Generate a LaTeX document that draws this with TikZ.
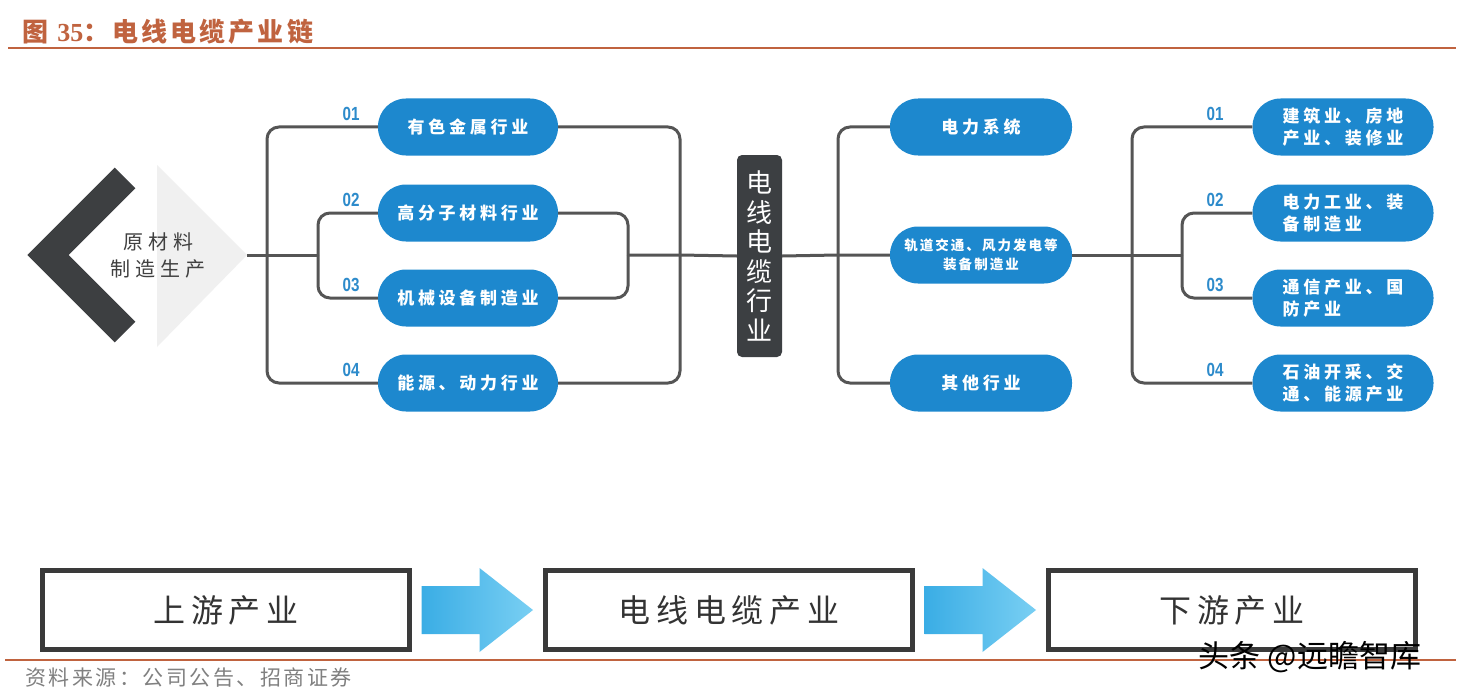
\documentclass[tikz,border=0pt]{standalone}
\usepackage{fontspec}
\usepackage{graphicx}
\setmainfont{Liberation Sans}
\newfontfamily\cjk{Noto Sans CJK SC}
\newfontfamily\serifnum{Liberation Serif}
\usetikzlibrary{calc}
\definecolor{titlered}{HTML}{C0633F}
\definecolor{pillblue}{HTML}{1D88CE}
\definecolor{numblue}{HTML}{2D8BCB}
\definecolor{wiregray}{HTML}{555555}
\definecolor{chevgray}{HTML}{3D3F41}
\definecolor{fadegray}{HTML}{F0F0F0}
\definecolor{coredark}{HTML}{3C3F42}
\definecolor{framegray}{HTML}{3A3A3A}
\definecolor{srcgray}{HTML}{808080}
\definecolor{flowa}{HTML}{3AADE5}
\definecolor{flowb}{HTML}{79CFF3}
\newcommand{\tagnum}[1]{\scalebox{0.8}[1]{#1}}
\tikzset{
  headline/.style={text=titlered, font=\cjk\bfseries\fontsize{26}{28}\selectfont\addfontfeature{LetterSpace=12}, inner sep=0pt},
  rule/.style={draw=titlered, line width=2pt},
  src/.style={text=srcgray, font=\cjk\fontsize{21}{24}\selectfont\addfontfeature{LetterSpace=12}, inner sep=0pt},
  chevron/.style={draw=chevgray, line width=29pt, line join=miter},
  rawtxt/.style={text=black!75, align=center, font=\cjk\fontsize{20}{27}\selectfont\addfontfeature{LetterSpace=25}},
  pill/.style={fill=pillblue, rounded corners=28pt, minimum width=180pt, minimum height=57pt, inner sep=0pt,
    text=white, font=\cjk\bfseries\fontsize{17}{22}\selectfont\addfontfeature{LetterSpace=22}},
  num/.style={text=numblue, font=\bfseries\fontsize{19}{19}\selectfont, inner sep=0pt},
  wire/.style={draw=wiregray, line width=3pt, rounded corners=12pt},
  core/.style={fill=coredark, rounded corners=5pt, minimum width=45pt, minimum height=202pt, inner sep=0pt,
    text=white, align=center, font=\cjk\fontsize{26}{29.5}\selectfont},
  stage/.style={draw=framegray, line width=5pt, minimum width=367pt, minimum height=79pt,
    text=black!80, font=\cjk\fontsize{32}{36}\selectfont\addfontfeature{LetterSpace=18}},
  flow/.style={left color=flowa, right color=flowb},
  wmark/.style={text=black, font=\cjk\fontsize{31}{34}\selectfont, inner sep=0pt},
}
\begin{document}
\begin{tikzpicture}[x=1pt,y=-1pt]
  \useasboundingbox[fill=white] (0,0) rectangle (1466,698);
  % title and rules
  \node[headline, anchor=west] (ttl) at (22,32) {图 {\serifnum 35}：电线电缆产业链};
  \draw[rule] (8,48) -- (1456,48);
  \draw[rule] (5,660) -- (1456,660);
  \node[src, anchor=west] (source) at (25,678) {资料来源：公司公告、招商证券};

  % raw material chevron
  \fill[fadegray] (157,165) -- (247,255) -- (157,347) -- cycle;
  \draw[chevron] (125,178) -- (48,255) -- (125,332);
  \node[rawtxt] (raw) at (158,255) {原材料\\制造生产};
  \coordinate (rawtip) at (247,255);

  % upstream branches
  \foreach \n/\y/\t in {1/127/有色金属行业, 2/213/高分子材料行业, 3/298/机械设备制造业, 4/383/能源、动力行业}{
    \node[pill] (u\n) at (468,\y) {\t};
    \node[num] (un\n) at (351,\y-13) {\tagnum{0\n}};
  }
  \coordinate (jl) at (267,255);
  \coordinate (jli) at (318,255);
  \coordinate (jri) at (628,255);
  \coordinate (jr) at (680,255);
  \draw[wire] (rawtip) -- (jl) -- (jli);
  \draw[wire] (jl) |- (u1.west);
  \draw[wire] (jl) |- (u4.west);
  \draw[wire] (jli) |- (u2.west);
  \draw[wire] (jli) |- (u3.west);
  \draw[wire] (u1.east) -| (jr);
  \draw[wire] (u4.east) -| (jr);
  \draw[wire] (u2.east) -| (jri);
  \draw[wire] (u3.east) -| (jri);

  % cable industry
  \node[core] (cable) at (759.5,256) {电\\线\\电\\缆\\行\\业};
  \draw[wire] (jri) -- (jr) -- (cable.west);

  % application fields
  \node[pill, minimum width=182pt] (m1) at (981,127) {电力系统};
  \node[pill, minimum width=182pt, align=center, font=\cjk\bfseries\fontsize{13.5}{19}\selectfont\addfontfeature{LetterSpace=15}] (m2) at (981,255) {轨道交通、风力发电等\\装备制造业};
  \node[pill, minimum width=182pt] (m3) at (981,383) {其他行业};
  \coordinate (jm) at (838,255);
  \draw[wire] (cable.east) -- (jm) -- (m2.west);
  \draw[wire] (jm) |- (m1.west);
  \draw[wire] (jm) |- (m3.west);

  % downstream branches
  \foreach \n/\y/\t in {1/127/{建筑业、房地\\产业、装修业}, 2/213/{电力工业、装\\备制造业}, 3/298/{通信产业、国\\防产业}, 4/383/{石油开采、交\\通、能源产业}}{
    \node[pill, minimum width=181pt, align=left] (d\n) at (1343,\y) {\t};
    \node[num] (dn\n) at (1215,\y-13) {\tagnum{0\n}};
  }
  \coordinate (jd) at (1132,255);
  \coordinate (jdi) at (1182,255);
  \draw[wire] (m2.east) -- (jd) -- (jdi);
  \draw[wire] (jd) |- (d1.west);
  \draw[wire] (jd) |- (d4.west);
  \draw[wire] (jdi) |- (d2.west);
  \draw[wire] (jdi) |- (d3.west);

  % chain summary
  \node[stage] (up) at (226,610) {上游产业};
  \node[stage] (mid) at (729,610) {电线电缆产业};
  \node[stage] (down) at (1232,610) {下游产业};
  \foreach \a/\b in {up/mid, mid/down}
    \shade[flow] ($(\a.east)+(9.5,-24)$) -- ($(\a.east)+(67.5,-24)$) -- ($(\a.east)+(67.5,-42)$)
      -- ($(\b.west)+(-10,0)$) -- ($(\a.east)+(67.5,42)$) -- ($(\a.east)+(67.5,24)$)
      -- ($(\a.east)+(9.5,24)$) -- cycle;

  \node[wmark] (wm) at (1310,657) {头条 @远瞻智库};
\end{tikzpicture}
\end{document}
